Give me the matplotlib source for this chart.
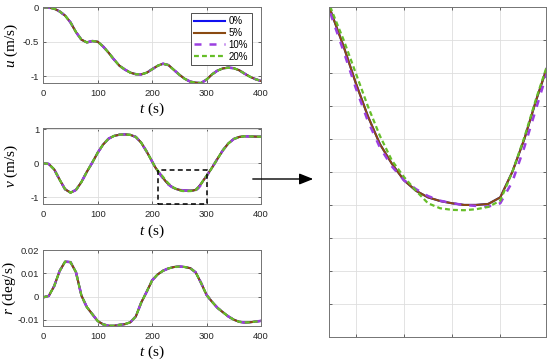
import matplotlib
matplotlib.use("Agg")
import matplotlib.pyplot as plt
import matplotlib.patches as mpatches
import numpy as np

plt.rcParams['font.family'] = ['Liberation Sans', 'DejaVu Sans']
plt.rcParams['mathtext.fontset'] = 'custom'
plt.rcParams['mathtext.it'] = 'Liberation Serif:italic'
plt.rcParams['mathtext.rm'] = 'Liberation Serif'

# ---------------- data ----------------
series_labels = ['0%', '5%', '10%', '20%']

t_u = [0, 10, 20, 30, 40, 50, 60, 70, 80, 90, 100, 110, 120, 130, 140, 150, 160, 170, 180, 190,
       200, 210, 220, 230, 240, 250, 260, 270, 280, 290, 300, 310, 320, 330, 340, 350, 360, 370,
       380, 390, 400]
u_vals = [0.0, -0.005, -0.02, -0.06, -0.12, -0.22, -0.36, -0.47, -0.51, -0.49, -0.50, -0.57,
          -0.66, -0.76, -0.85, -0.905, -0.95, -0.972, -0.975, -0.95, -0.90, -0.85, -0.82, -0.84,
          -0.91, -0.98, -1.04, -1.08, -1.095, -1.10, -1.05, -0.975, -0.92, -0.888, -0.877,
          -0.885, -0.915, -0.965, -1.01, -1.045, -1.07]

t_v = [0, 10, 20, 30, 40, 50, 60, 70, 80, 90, 100, 110, 120, 130, 140, 150, 160, 170, 180, 190,
       200, 205,
       210, 215, 220, 225, 230, 235, 240, 245, 250, 255, 260, 265, 270, 275, 280, 285, 290, 295, 300,
       305, 310, 320, 330, 340, 350, 360, 370, 380, 390, 400]
v_pre = [0.0, -0.02, -0.18, -0.48, -0.76, -0.86, -0.78, -0.55, -0.25, 0.02, 0.31, 0.55, 0.72,
         0.80, 0.835, 0.845, 0.83, 0.77, 0.60, 0.34, 0.05, -0.10]
v_mid_0 = [-0.22, -0.32, -0.43, -0.53, -0.615, -0.675, -0.725, -0.757, -0.777, -0.788, -0.795,
           -0.80, -0.80, -0.797, -0.777, -0.70, -0.60, -0.48, -0.37]
v_mid_10 = [-0.23, -0.335, -0.445, -0.545, -0.625, -0.683, -0.725, -0.752, -0.773, -0.787,
            -0.795, -0.80, -0.803, -0.805, -0.795, -0.73, -0.625, -0.505, -0.385]
v_mid_20 = [-0.21, -0.30, -0.40, -0.50, -0.59, -0.665, -0.715, -0.757, -0.795, -0.81, -0.815,
            -0.816, -0.813, -0.806, -0.787, -0.70, -0.595, -0.475, -0.365]
v_post = [-0.25, -0.13, 0.13, 0.38, 0.58, 0.71, 0.77, 0.79, 0.785, 0.78, 0.775]

t_r = t_u
r_vals = [-0.0003, 0.0003, 0.0045, 0.011, 0.0150, 0.0148, 0.0105, 0.0005, -0.0045, -0.0075,
          -0.0105, -0.0119, -0.0125, -0.0125, -0.0121, -0.0118, -0.0110, -0.0085, -0.0025,
          0.0021, 0.0070, 0.0095, 0.0111, 0.0121, 0.0127, 0.0129, 0.0127, 0.0122, 0.0104,
          0.0058, 0.0007, -0.0022, -0.0048, -0.0067, -0.0085, -0.0099, -0.0108, -0.0111,
          -0.0110, -0.0107, -0.0104]

v_series = {
    '0%': v_pre + v_mid_0 + v_post,
    '5%': v_pre + v_mid_0 + v_post,
    '10%': v_pre + v_mid_10 + v_post,
    '20%': v_pre + v_mid_20 + v_post,
}

# ---------------- styles ----------------
styles = {
    '0%': dict(color='#1010F0', lw=1.5, ls='-'),
    '5%': dict(color='#8A4A12', lw=1.5, ls='-'),
    '10%': dict(color='#9B3FE0', lw=1.8, ls=(0, (2.8, 3.2))),
    '20%': dict(color='#66BE28', lw=1.6, ls=(0, (2.2, 1.4))),
}

fig = plt.figure(figsize=(5.5, 3.62), dpi=100)
W, H = 550.0, 362.0


def add_ax(l, t, r, b):
    return fig.add_axes([l / W, 1 - b / H, (r - l) / W, (b - t) / H])


def style(ax):
    ax.grid(True, color='0.87', lw=0.6)
    ax.set_axisbelow(True)
    for s in ax.spines.values():
        s.set_color('0.45')
        s.set_linewidth(0.7)
    ax.tick_params(direction='in', length=2.5, width=0.6, color='0.3', labelsize=6.8,
                   labelcolor='0.15', top=True, right=True, pad=3)
    ax.tick_params(axis='x', pad=4)


ax1 = add_ax(43.3, 7.3, 261.0, 83.0)
ax2 = add_ax(43.3, 127.7, 261.0, 204.3)
ax3 = add_ax(43.3, 250.0, 261.0, 326.0)
ax4 = add_ax(329.3, 7.3, 546.0, 336.7)

for lab in series_labels:
    st = styles[lab]
    ax1.plot(t_u, u_vals, label=lab, **st)
    ax2.plot(t_v, v_series[lab], **st)
    ax3.plot(t_r, r_vals, **st)
    ax4.plot(t_v, v_series[lab], **st)

xt = [0, 100, 200, 300, 400]
for ax in (ax1, ax2, ax3):
    style(ax)
    ax.set_xlim(0, 400)
    ax.set_xticks(xt)
    ax.set_xticklabels([str(x) for x in xt])
    ax.set_xlabel(r'$t$ (s)', fontfamily='Liberation Serif', fontsize=11)
    ax.xaxis.set_label_coords(0.5, -0.235)

ax1.set_ylim(-1.1, 0)
ax1.set_yticks([-1, -0.5, 0])
ax1.set_yticklabels(['-1', '-0.5', '0'])
ax1.set_ylabel(r'$u$ (m/s)', fontfamily='Liberation Serif', fontsize=11)

ax2.set_ylim(-1.2, 1.04)
ax2.set_yticks([-1, 0, 1])
ax2.set_yticklabels(['-1', '0', '1'])
ax2.set_ylabel(r'$v$ (m/s)', fontfamily='Liberation Serif', fontsize=11)

ax3.set_ylim(-0.0126, 0.02)
ax3.set_yticks([-0.01, 0, 0.01, 0.02])
ax3.set_yticklabels(['-0.01', '0', '0.01', '0.02'])
ax3.set_ylabel(r'$r$ (deg/s)', fontfamily='Liberation Serif', fontsize=11)

ax1.yaxis.set_label_coords(-0.105, 0.5)
ax2.yaxis.set_label_coords(-0.105, 0.5)
ax3.yaxis.set_label_coords(-0.118, 0.5)

leg = ax1.legend(loc='upper right', bbox_to_anchor=(0.957, 0.93), borderaxespad=0,
                 fontsize=7, handlelength=3.2, handletextpad=0.35, labelspacing=0.2,
                 borderpad=0.35, fancybox=False, framealpha=1, edgecolor='0.2')
leg.get_frame().set_linewidth(0.6)

# zoom rectangle
zoom_t = (210, 300)
zoom_v = (-1.2, -0.2)
rect = mpatches.Rectangle((zoom_t[0], zoom_v[0]), zoom_t[1] - zoom_t[0], zoom_v[1] - zoom_v[0],
                          fill=False, ec='k', lw=1.1, ls=(0, (3.2, 2.2)), clip_on=False, zorder=10)
ax2.add_patch(rect)

# zoom panel
style(ax4)
ax4.set_xlim(209, 299)
ax4.set_ylim(-1.2, -0.2)
ax4.set_xticks([220, 240, 260, 280])
ax4.set_yticks([-1.1, -1.0, -0.9, -0.8, -0.7, -0.6, -0.5, -0.4, -0.3])
ax4.set_xticklabels([])
ax4.set_yticklabels([])

# arrow
fig.add_artist(matplotlib.patches.FancyArrowPatch(
    (250 / W, 1 - 179 / H), (316 / W, 1 - 179 / H), transform=fig.transFigure,
    arrowstyle='-|>,head_length=0.7,head_width=0.28', mutation_scale=12, color='k', lw=1.0))

fig.savefig('out.png', dpi=100)
